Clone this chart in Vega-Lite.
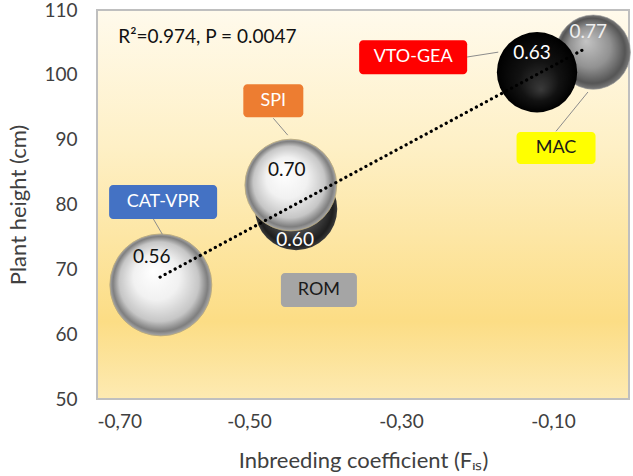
{
  "$schema": "https://vega.github.io/schema/vega-lite/v6.json",
  "width": 532,
  "height": 389,
  "autosize": "none",
  "padding": {"left": 97, "top": 10, "right": 4, "bottom": 77},
  "background": "white",
  "datasets": {
    "points": [
      {"line": "CAT-VPR", "fis": -0.616, "height": 67.6, "bubble": 1.0, "value": "0.56"},
      {"line": "SPI", "fis": -0.445, "height": 83.0, "bubble": 0.81, "value": "0.70"},
      {"line": "ROM", "fis": -0.438, "height": 79.3, "bubble": 0.65, "value": "0.60"},
      {"line": "VTO-GEA", "fis": -0.121, "height": 100.4, "bubble": 0.62, "value": "0.63"},
      {"line": "MAC", "fis": -0.047, "height": 103.5, "bubble": 0.53, "value": "0.77"}
    ],
    "trend": [
      {"fis": -0.617, "height": 68.8},
      {"fis": -0.057, "height": 104.1}
    ],
    "callouts": [
      {"line": "CAT-VPR", "lx": -0.613, "ly": 80.4, "ax": -0.626, "ay": 77.8, "bx": -0.614, "by": 75.4},
      {"line": "SPI", "lx": -0.468, "ly": 96.0, "ax": -0.468, "ay": 93.3, "bx": -0.449, "by": 90.7},
      {"line": "ROM", "lx": -0.408, "ly": 66.8},
      {"line": "VTO-GEA", "lx": -0.284, "ly": 102.7, "ax": -0.213, "ay": 102.75, "bx": -0.172, "by": 103.5},
      {"line": "MAC", "lx": -0.096, "ly": 88.7, "ax": -0.096, "ay": 91.3, "bx": -0.054, "by": 97.35}
    ],
    "stats": [
      {"fis": -0.672, "height": 105.8, "text": "R²=0.974, P = 0.0047"}
    ]
  },
  "encoding": {
    "x": {
      "field": "fis",
      "type": "quantitative",
      "scale": {"domain": [-0.7, 0], "nice": false, "zero": false},
      "axis": {"values": [-0.7, -0.5, -0.3, -0.1], "format": ".2f", "title": "Inbreeding coefficient (Fᵢₛ)", "labelPadding": 13, "titlePadding": 19}
    },
    "y": {
      "field": "height",
      "type": "quantitative",
      "scale": {"domain": [50, 110], "nice": false, "zero": false},
      "axis": {"values": [50, 60, 70, 80, 90, 100, 110], "title": "Plant height (cm)", "labelPadding": 20, "titlePadding": 13}
    }
  },
  "layer": [
    {
      "data": {"name": "points"},
      "encoding": {
        "size": {"field": "bubble", "type": "quantitative", "scale": {"domain": [0, 1], "range": [0, 10404]}, "legend": null}
      },
      "layer": [
        {
          "transform": [{"filter": "datum.line === 'ROM'"}],
          "mark": {
            "type": "point", "shape": "circle", "filled": true, "opacity": 1,
            "fill": {
              "gradient": "radial", "x1": 0.45, "y1": 0.4, "r1": 0, "x2": 0.5, "y2": 0.5, "r2": 0.5,
              "stops": [
                {"offset": 0, "color": "#8a8a8a"},
                {"offset": 0.6, "color": "#4a4a4a"},
                {"offset": 0.9, "color": "#1e1e1e"},
                {"offset": 1, "color": "#3a3a3a"}
              ]
            }
          }
        },
        {
          "transform": [{"filter": "datum.line === 'MAC'"}],
          "mark": {
            "type": "point", "shape": "circle", "filled": true, "opacity": 1,
            "stroke": "#9a9a9a", "strokeWidth": 0.6,
            "fill": {
              "gradient": "radial", "x1": 0.4, "y1": 0.35, "r1": 0, "x2": 0.5, "y2": 0.5, "r2": 0.5,
              "stops": [
                {"offset": 0, "color": "#c4c4c4"},
                {"offset": 0.55, "color": "#929292"},
                {"offset": 0.88, "color": "#555555"},
                {"offset": 1, "color": "#7a7a7a"}
              ]
            }
          }
        },
        {
          "transform": [{"filter": "datum.line === 'CAT-VPR' || datum.line === 'SPI'"}],
          "mark": {
            "type": "point", "shape": "circle", "filled": true, "opacity": 1,
            "stroke": "#b9a878", "strokeWidth": 0.8,
            "fill": {
              "gradient": "radial", "x1": 0.42, "y1": 0.36, "r1": 0, "x2": 0.5, "y2": 0.5, "r2": 0.5,
              "stops": [
                {"offset": 0, "color": "#ffffff"},
                {"offset": 0.45, "color": "#f1f1f1"},
                {"offset": 0.78, "color": "#c6c6c6"},
                {"offset": 0.93, "color": "#7e7e7e"},
                {"offset": 1, "color": "#a8a8a8"}
              ]
            }
          }
        },
        {
          "transform": [{"filter": "datum.line === 'VTO-GEA'"}],
          "mark": {
            "type": "point", "shape": "circle", "filled": true, "opacity": 1,
            "fill": {
              "gradient": "radial", "x1": 0.55, "y1": 0.72, "r1": 0, "x2": 0.5, "y2": 0.5, "r2": 0.5,
              "stops": [
                {"offset": 0, "color": "#3a3a3a"},
                {"offset": 0.5, "color": "#121212"},
                {"offset": 1, "color": "#000000"}
              ]
            }
          }
        }
      ]
    },
    {
      "data": {"name": "trend"},
      "mark": {"type": "line", "color": "#000000", "strokeWidth": 3.2, "strokeDash": [0.1, 5.6], "strokeCap": "round"},
      "encoding": {}
    },
    {
      "data": {"name": "points"},
      "encoding": {"text": {"field": "value"}},
      "layer": [
        {
          "transform": [{"filter": "datum.line === 'CAT-VPR'"}],
          "mark": {"type": "text", "font": "Lato", "fontSize": 19, "color": "#111111", "dx": -9, "dy": -28}
        },
        {
          "transform": [{"filter": "datum.line === 'SPI'"}],
          "mark": {"type": "text", "font": "Lato", "fontSize": 19, "color": "#111111", "dx": -4, "dy": -15}
        },
        {
          "transform": [{"filter": "datum.line === 'ROM'"}],
          "mark": {"type": "text", "font": "Lato", "fontSize": 19, "color": "#ffffff", "dx": -1, "dy": 31}
        },
        {
          "transform": [{"filter": "datum.line === 'VTO-GEA'"}],
          "mark": {"type": "text", "font": "Lato", "fontSize": 19, "color": "#ffffff", "dx": -5, "dy": -19}
        },
        {
          "transform": [{"filter": "datum.line === 'MAC'"}],
          "mark": {"type": "text", "font": "Lato", "fontSize": 19, "color": "#eeeeee", "dx": -5, "dy": -20}
        }
      ]
    },
    {
      "data": {"name": "callouts"},
      "layer": [
        {
          "transform": [{"filter": "isValid(datum.ax)"}],
          "mark": {"type": "rule", "color": "#8c8c8c", "strokeWidth": 1},
          "encoding": {
            "x": {"field": "ax", "type": "quantitative"},
            "y": {"field": "ay", "type": "quantitative"},
            "x2": {"field": "bx"},
            "y2": {"field": "by"}
          }
        },
        {
          "encoding": {
            "x": {"field": "lx", "type": "quantitative"},
            "y": {"field": "ly", "type": "quantitative"},
            "fill": {
              "field": "line", "type": "nominal", "legend": null,
              "scale": {"domain": ["CAT-VPR", "SPI", "ROM", "VTO-GEA", "MAC"], "range": ["#4472C4", "#ED7D31", "#A5A5A5", "#FF0000", "#FFFF00"]}
            }
          },
          "layer": [
            {
              "transform": [{"filter": "datum.line === 'CAT-VPR' || datum.line === 'VTO-GEA'"}],
              "mark": {"type": "rect", "width": 108, "height": 34, "cornerRadius": 4}
            },
            {
              "transform": [{"filter": "datum.line === 'SPI'"}],
              "mark": {"type": "rect", "width": 60, "height": 33, "cornerRadius": 4}
            },
            {
              "transform": [{"filter": "datum.line === 'ROM'"}],
              "mark": {"type": "rect", "width": 76, "height": 34, "cornerRadius": 4}
            },
            {
              "transform": [{"filter": "datum.line === 'MAC'"}],
              "mark": {"type": "rect", "width": 79, "height": 32, "cornerRadius": 4}
            }
          ]
        },
        {
          "mark": {"type": "text", "font": "Lato", "fontSize": 18},
          "encoding": {
            "x": {"field": "lx", "type": "quantitative"},
            "y": {"field": "ly", "type": "quantitative"},
            "text": {"field": "line"},
            "color": {
              "field": "line", "type": "nominal", "legend": null,
              "scale": {"domain": ["CAT-VPR", "SPI", "ROM", "VTO-GEA", "MAC"], "range": ["#ffffff", "#ffffff", "#1a1a1a", "#ffffff", "#1a1a1a"]}
            },
            "fontWeight": {
              "field": "line", "type": "nominal", "legend": null,
              "scale": {"domain": ["CAT-VPR", "SPI", "ROM", "VTO-GEA", "MAC"], "range": ["normal", "normal", "bold", "normal", "normal"]}
            }
          }
        }
      ]
    },
    {
      "data": {"name": "stats"},
      "mark": {"type": "text", "align": "left", "font": "Lato", "fontSize": 19, "color": "#111111"},
      "encoding": {"text": {"field": "text"}}
    }
  ],
  "config": {
    "font": "Lato",
    "view": {
      "stroke": "#BFBFBF",
      "strokeWidth": 2,
      "fill": {
        "gradient": "linear", "x1": 0, "y1": 0, "x2": 0, "y2": 1,
        "stops": [
          {"offset": 0, "color": "#FFFAEC"},
          {"offset": 0.35, "color": "#FEF0C6"},
          {"offset": 0.8, "color": "#FCDD85"},
          {"offset": 1, "color": "#FDEAB2"}
        ]
      }
    },
    "axis": {
      "grid": false,
      "domain": false,
      "ticks": false,
      "labelFont": "Lato",
      "labelFontSize": 19,
      "labelColor": "#404040",
      "titleFont": "Lato",
      "titleFontSize": 22,
      "titleFontWeight": "normal",
      "titleColor": "#404040"
    },
    "locale": {
      "number": {"decimal": ",", "thousands": ".", "grouping": [3], "currency": ["", "€"], "minus": "-"}
    }
  }
}
